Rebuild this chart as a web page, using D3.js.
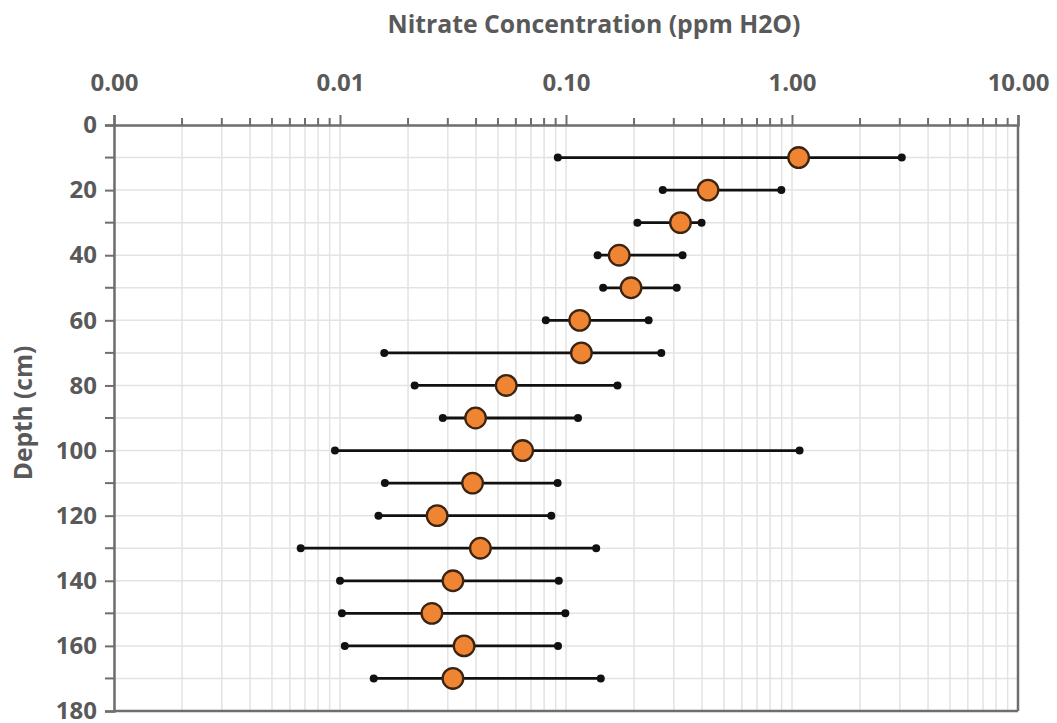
<!DOCTYPE html>
<html>
<head>
<meta charset="utf-8">
<script src="https://cdn.jsdelivr.net/npm/d3@7"></script>
<style>
  body { margin: 0; background: #fff; }
  text { font-family: "Open Sans", "Noto Sans", sans-serif; font-weight: bold; fill: #595959; }
</style>
</head>
<body>
<div id="chart"></div>
<script>
// depth (cm) of each sample
const depths = [10, 20, 30, 40, 50, 60, 70, 80, 90, 100, 110, 120, 130, 140, 150, 160, 170];
// nitrate, mean and range (ppm H2O)
const means = [1.07, 0.425, 0.321, 0.172, 0.194, 0.115, 0.117, 0.0544, 0.0398, 0.0643, 0.0386, 0.0269, 0.0418, 0.0316, 0.0255, 0.0354, 0.0316];
const lows  = [0.092, 0.268, 0.207, 0.138, 0.146, 0.0814, 0.0157, 0.0214, 0.0285, 0.0095, 0.0158, 0.0148, 0.0067, 0.0100, 0.0102, 0.0105, 0.0141];
const highs = [3.06, 0.897, 0.398, 0.328, 0.309, 0.232, 0.264, 0.169, 0.113, 1.08, 0.0918, 0.0861, 0.136, 0.0929, 0.0993, 0.0922, 0.1425];

const xTicks = [0.001, 0.01, 0.1, 1, 10];
const xTickLabels = ["0.00", "0.01", "0.10", "1.00", "10.00"];
const yTicks = [0, 20, 40, 60, 80, 100, 120, 140, 160, 180];

const W = 1057, H = 723;
const pL = 114, pR = 1018, pT = 125, pB = 711;

const svg = d3.select('#chart').append('svg').attr('width', W).attr('height', H);

const x = d3.scaleLog().domain([0.001, 10]).range([pL, pR]);
const y = d3.scaleLinear().domain([0, 180]).range([pT, pB]);

// minor log positions
const minor = [];
for (let e = -3; e < 1; ++e) {
  for (let m = 2; m <= 9; ++m) minor.push(m * Math.pow(10, e));
}

// grid
const grid = svg.append('g');
grid.selectAll('line.vx').data(minor.concat(xTicks)).enter().append('line')
  .attr('x1', d => x(d)).attr('x2', d => x(d))
  .attr('y1', pT).attr('y2', pB)
  .attr('stroke', '#e3e3e3').attr('stroke-width', 1.5);
grid.selectAll('line.hy').data(d3.range(10, 180, 10)).enter().append('line')
  .attr('x1', pL).attr('x2', pR)
  .attr('y1', d => y(d)).attr('y2', d => y(d))
  .attr('stroke', '#e3e3e3').attr('stroke-width', 1.5);

// top axis
const xAxis = svg.append('g').attr('transform', `translate(0,${pT})`)
  .call(d3.axisTop(x).tickValues(xTicks).tickFormat((d, i) => xTickLabels[i]).tickSize(10).tickPadding(24));
xAxis.selectAll('text').style('font-size', '24px');
xAxis.append('g').selectAll('line').data(minor).enter().append('line')
  .attr('x1', d => x(d)).attr('x2', d => x(d)).attr('y1', 0).attr('y2', -7);
xAxis.selectAll('line').attr('stroke', '#6e6e6e').attr('stroke-width', 2);
xAxis.select('.domain').attr('stroke', '#6e6e6e').attr('stroke-width', 2.5);

// left axis
const yAxis = svg.append('g').attr('transform', `translate(${pL},0)`)
  .call(d3.axisLeft(y).tickValues(yTicks).tickSize(9).tickPadding(8));
yAxis.selectAll('text').style('font-size', '24px');
yAxis.append('g').selectAll('line').data(d3.range(10, 180, 20)).enter().append('line')
  .attr('x1', -9).attr('x2', 0).attr('y1', d => y(d)).attr('y2', d => y(d));
yAxis.selectAll('line').attr('stroke', '#6e6e6e').attr('stroke-width', 2);
yAxis.select('.domain').attr('stroke', '#6e6e6e').attr('stroke-width', 2.5);

// right and bottom frame
svg.append('line').attr('x1', pR).attr('x2', pR).attr('y1', pT).attr('y2', pB)
  .attr('stroke', '#6e6e6e').attr('stroke-width', 2.5);
svg.append('line').attr('x1', pL).attr('x2', pR).attr('y1', pB).attr('y2', pB)
  .attr('stroke', '#6e6e6e').attr('stroke-width', 2.5);

// titles
svg.append('text').attr('x', 594).attr('y', 33).attr('text-anchor', 'middle')
  .style('font-size', '24.8px').text('Nitrate Concentration (ppm H2O)');
svg.append('text').attr('transform', 'translate(32,413) rotate(-90)').attr('text-anchor', 'middle')
  .style('font-size', '24.5px').text('Depth (cm)');

// data rows
const rows = depths.map((d, i) => ({ depth: d, mean: means[i], lo: lows[i], hi: highs[i] }));
const marks = svg.append('g');
marks.selectAll('line.bar').data(rows).enter().append('line')
  .attr('x1', d => x(d.lo)).attr('x2', d => x(d.hi))
  .attr('y1', d => y(d.depth)).attr('y2', d => y(d.depth))
  .attr('stroke', '#111').attr('stroke-width', 2.8);
marks.selectAll('circle.lo').data(rows).enter().append('circle')
  .attr('cx', d => x(d.lo)).attr('cy', d => y(d.depth)).attr('r', 4).attr('fill', '#111');
marks.selectAll('circle.hi').data(rows).enter().append('circle')
  .attr('cx', d => x(d.hi)).attr('cy', d => y(d.depth)).attr('r', 4).attr('fill', '#111');
marks.selectAll('circle.mean').data(rows).enter().append('circle')
  .attr('cx', d => x(d.mean)).attr('cy', d => y(d.depth)).attr('r', 10.3)
  .attr('fill', '#ef8433').attr('stroke', '#3b2412').attr('stroke-width', 2.3);
</script>
</body>
</html>
